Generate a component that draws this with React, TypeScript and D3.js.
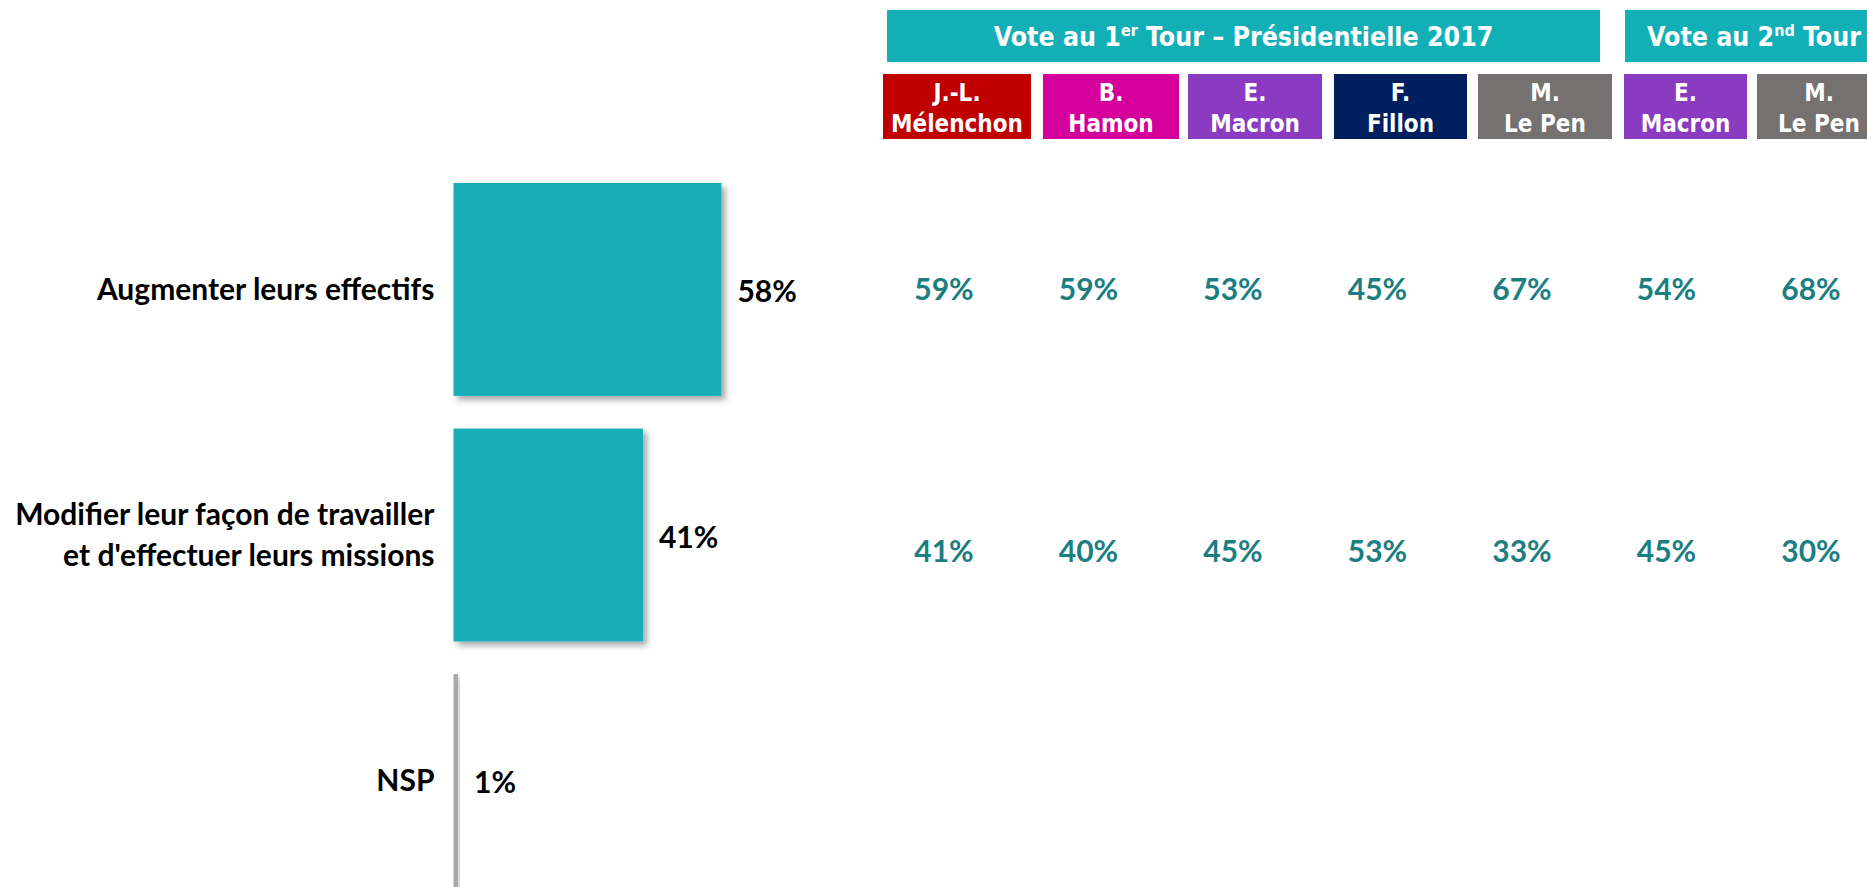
import React from "react";
import * as d3 from "d3";

// ---- Data ----
const categories = [
  ["Augmenter leurs effectifs"],
  ["Modifier leur façon de travailler", "et d'effectuer leurs missions"],
  ["NSP"],
];
const totals = [58, 41, 1];
const barColors = ["#13AFB7", "#13AFB7", "#A9A9A9"];

const rounds = [
  { label: "Vote au ", num: "1", sup: "er", rest: " Tour – Présidentielle 2017", from: 0, to: 4 },
  { label: "Vote au ", num: "2", sup: "nd", rest: " Tour", from: 5, to: 6 },
];
const candidateFirst = ["J.-L.", "B.", "E.", "F.", "M.", "E.", "M."];
const candidateLast = ["Mélenchon", "Hamon", "Macron", "Fillon", "Le Pen", "Macron", "Le Pen"];
const candidateColors = ["#C00000", "#D5009B", "#8A3BC1", "#001F5F", "#767171", "#8A3BC1", "#767171"];
const rowAugmenter = [59, 59, 53, 45, 67, 54, 68];
const rowModifier = [41, 40, 45, 53, 33, 45, 30];
const tableRows = [rowAugmenter, rowModifier];

// ---- Layout ----
const W = 1867;
const H = 887;
const boxLeft = [883, 1043, 1188, 1334, 1478, 1624, 1757];
const boxRight = [1031, 1179, 1322, 1467, 1612, 1747, 1881];
const headerLeft = [887, 1625];
const headerRight = [1600, 1895];
const tableRowY = [289, 551];

const labelFont = "Lato, 'Open Sans', sans-serif";
const headFont = "'DejaVu Sans Condensed', 'DejaVu Sans', sans-serif";

export default function App() {
  const y = d3
    .scaleBand<number>()
    .domain(categories.map((_, i) => i))
    .range([183, 887])
    .paddingInner(0.133)
    .paddingOuter(0);
  const x = d3.scaleLinear().domain([0, 100]).range([453.5, 453.5 + 462]);
  const colX = d3
    .scalePoint<number>()
    .domain(candidateLast.map((_, i) => i))
    .range([944, 1811]);

  return (
    <svg
      width={W}
      height={H}
      style={{ position: "absolute", left: 0, top: 0, background: "#fff" }}
    >
      <defs>
        <filter id="shadow" x="-10%" y="-10%" width="130%" height="130%">
          <feDropShadow dx="4" dy="4" stdDeviation="3" floodColor="#000" floodOpacity="0.35" />
        </filter>
      </defs>

      {/* Bars */}
      {totals.map((v, i) => {
        const y0 = y(i)!;
        const bw = y.bandwidth();
        return (
          <g key={i}>
            <rect
              x={x(0)}
              y={y0}
              width={Math.max(x(v) - x(0), 1)}
              height={bw}
              fill={barColors[i]}
              filter="url(#shadow)"
            />
            <text
              x={x(v) + 16}
              y={y0 + bw / 2 + 2}
              dy="0.35em"
              fontFamily={labelFont}
              fontWeight={700}
              fontSize={30}
              fill="#000"
            >
              {v}%
            </text>
            {categories[i].map((line, j) => (
              <text
                key={j}
                x={434.5}
                y={y0 + bw / 2 + (j - (categories[i].length - 1) / 2) * 41}
                dy="0.35em"
                textAnchor="end"
                fontFamily={labelFont}
                fontWeight={700}
                fontSize={30}
                fill="#000"
              >
                {line}
              </text>
            ))}
          </g>
        );
      })}

      {/* Round headers */}
      {rounds.map((r, i) => {
        const x0 = headerLeft[i];
        const x1 = headerRight[i];
        const cx = i === 0 ? (x0 + x1) / 2 : 1647;
        return (
          <g key={i}>
            <rect x={x0} y={10} width={x1 - x0} height={52} fill="#13AFB7" />
            <text
              x={cx}
              y={36}
              dy="0.36em"
              textAnchor={i === 0 ? "middle" : "start"}
              fontFamily={headFont}
              fontWeight={700}
              fontSize={26.5}
              fill="#fff"
            >
              {r.label}
              {r.num}
              <tspan fontSize={16} dy={-10}>
                {r.sup}
              </tspan>
              <tspan dy={10}>{r.rest}</tspan>
            </text>
          </g>
        );
      })}

      {/* Candidate boxes */}
      {candidateLast.map((name, i) => {
        const cx = (boxLeft[i] + boxRight[i]) / 2;
        return (
          <g key={i}>
            <rect
              x={boxLeft[i]}
              y={74}
              width={boxRight[i] - boxLeft[i]}
              height={65}
              fill={candidateColors[i]}
            />
            <text
              x={cx}
              y={92}
              dy="0.36em"
              textAnchor="middle"
              fontFamily={headFont}
              fontWeight={700}
              fontSize={24}
              fill="#fff"
            >
              {candidateFirst[i]}
            </text>
            <text
              x={cx}
              y={123}
              dy="0.36em"
              textAnchor="middle"
              fontFamily={headFont}
              fontWeight={700}
              fontSize={24}
              fill="#fff"
            >
              {name}
            </text>
          </g>
        );
      })}

      {/* Table values */}
      {tableRows.map((row, r) =>
        row.map((v, i) => (
          <text
            key={`${r}-${i}`}
            x={colX(i)!}
            y={tableRowY[r]}
            dy="0.35em"
            textAnchor="middle"
            fontFamily={labelFont}
            fontWeight={700}
            fontSize={30}
            fill="#1B7E80"
          >
            {v}%
          </text>
        ))
      )}
    </svg>
  );
}
